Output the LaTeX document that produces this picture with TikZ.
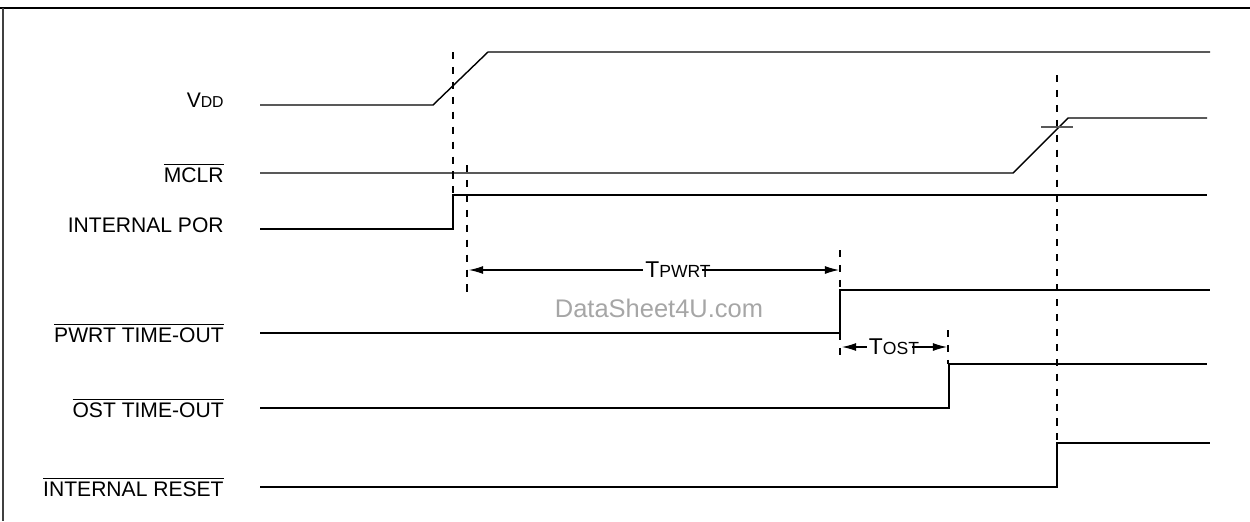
\documentclass[tikz,border=0pt]{standalone}
\usepackage{fontspec}
\setmainfont{Liberation Sans}
\usetikzlibrary{arrows.meta,positioning}

\begin{document}
\begin{tikzpicture}[x=0.02cm, y=-0.02cm, >={Latex[length=8pt,width=4.5pt]},
    sig/.style={line width=0.8pt, line join=miter},
    guide/.style={line width=0.6pt, dash pattern=on 4pt off 4.5pt},
    siglabel/.style={anchor=east, inner sep=0pt, font=\fontsize{12}{14}\selectfont},
    spanlabel/.style={inner sep=1pt, font=\fontsize{13}{15}\selectfont}]
    \useasboundingbox (0,0) rectangle (1250,521);

    % frame
    \draw[line width=1.7pt] (0,8) -- (1250,8);
    \draw[line width=1.1pt, black!75] (3,8) -- (3,521);

    % signal names
    \node[siglabel] (vdd) at (224,100) {V\fontsize{9}{10}\selectfont DD};
    \node[siglabel] (mclr) at (224,173) {$\overline{\mbox{MCLR}}$};
    \node[siglabel] (por) at (224,225) {INTERNAL POR};
    \node[siglabel] (pwrt) at (224,333) {$\overline{\mbox{PWRT TIME-OUT}}$};
    \node[siglabel] (ost) at (224,408) {$\overline{\mbox{OST TIME-OUT}}$};
    \node[siglabel] (rst) at (224,487) {$\overline{\mbox{INTERNAL RESET}}$};

    % dashed guides
    \draw[guide] (453,52) -- (453,195);
    \draw[guide] (467,165) -- (467,295);
    \draw[guide] (840,250) -- (840,290);
    \draw[guide] (840,333) -- (840,360);
    \draw[guide] (948,330) -- (948,364);
    \draw[guide] (1057,75) -- (1057,443);

    % waveforms
    \draw[sig] (260,105) -- (433,105) -- (488,52) -- (1210,52);
    \draw[sig] (260,173) -- (1013,173) -- (1068,118) -- (1207,118);
    \draw[line width=1.2pt, black!65] (1041,127) -- (1073,127);
    \draw[sig] (260,229) -- (453,229) -- (453,195) -- (1207,195);
    \draw[sig] (260,333) -- (840,333) -- (840,290) -- (1210,290);
    \draw[sig] (260,408) -- (949,408) -- (949,364) -- (1207,364);
    \draw[sig] (260,487) -- (1057,487) -- (1057,443) -- (1210,443);

    % timing spans
    \node[spanlabel] (tp) at (678,270) {T\fontsize{10}{12}\selectfont PWRT};
    \coordinate (tpL) at (469,270);
    \coordinate (tpR) at (839,270);
    \draw[<-, line width=0.6pt] (tpL) -- (tp.west);
    \draw[->, line width=0.6pt] ([xshift=-6pt]tp.east) -- (tpR);

    \node[spanlabel] (to) at (894,347) {T\fontsize{10}{12}\selectfont OST};
    \coordinate (toL) at (842,347);
    \coordinate (toR) at (947,347);
    \draw[<-, line width=0.6pt] (toL) -- (to.west);
    \draw[->, line width=0.6pt] ([xshift=-5pt]to.east) -- (toR);

    % watermark
    \node[text=black!35, font=\fontsize{14.5}{16}\selectfont] (wm) at (659,308) {DataSheet4U.com};
\end{tikzpicture}
\end{document}
